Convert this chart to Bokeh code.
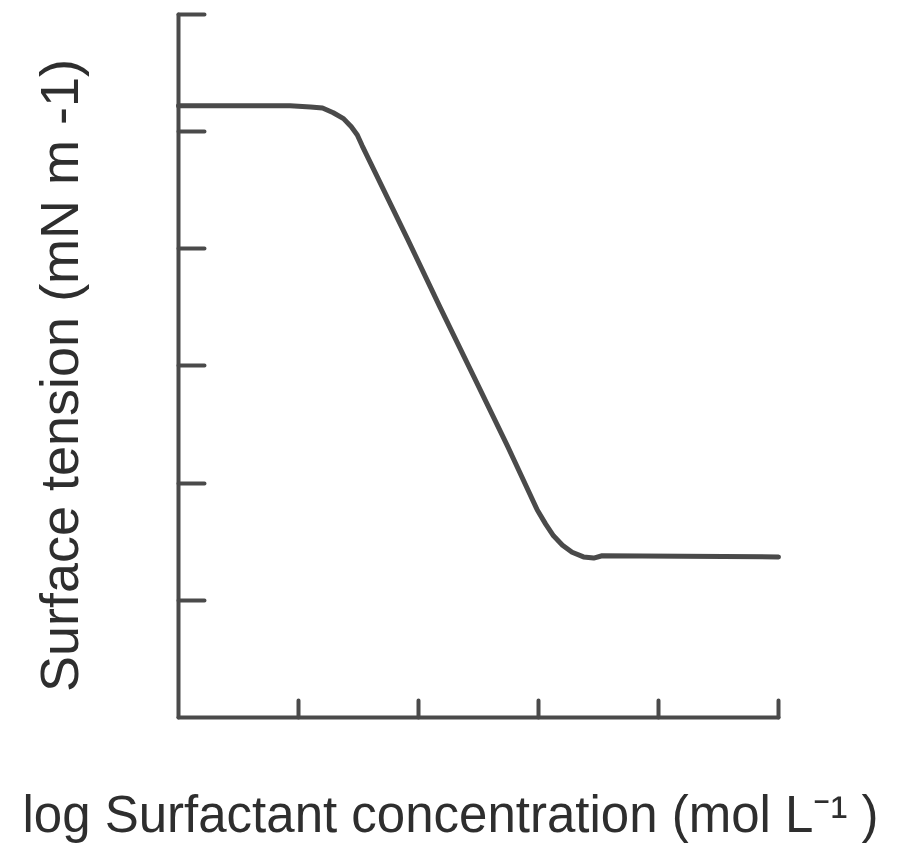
import math
from bokeh.plotting import figure
from bokeh.models import Range1d, FixedTicker, Label, LinearAxis
from bokeh.embed import file_html
from bokeh.resources import INLINE

# log surfactant concentration (arbitrary units, no tick labels)
log_conc = [0.0, 0.93, 1.10, 1.20, 1.29, 1.375, 1.44, 1.49, 1.53, 1.91, 2.18,
            2.46, 2.74, 2.99, 3.06, 3.125, 3.20, 3.28, 3.375, 3.46, 3.53, 5.0]
# surface tension (arbitrary units, no tick labels)
surface_tension = [5.22, 5.22, 5.21, 5.20, 5.16, 5.11, 5.04, 4.97, 4.88, 4.08,
                   3.50, 2.91, 2.32, 1.77, 1.65, 1.55, 1.47, 1.41, 1.37, 1.36,
                   1.38, 1.37]
x_ticks = [1, 2, 3, 4, 5]
y_ticks = [1, 2, 3, 4, 5, 6]
x_title = "log Surfactant concentration (mol L\u207b\u00b9 )"
y_title = "Surface tension (mN m -1)"

INK = "#4a4a4a"
TEXT = "#2e2e2e"
FONT = "Liberation Sans"

W, H = 890, 843
PX_X, PX_Y = 120.0, 117.2          # pixels per data unit
ORIGIN_X, ORIGIN_Y = 178, 717      # canvas position of the data origin

p = figure(width=W, height=H,
           x_range=Range1d(-ORIGIN_X / PX_X, (W - ORIGIN_X) / PX_X),
           y_range=Range1d(-(H - ORIGIN_Y) / PX_Y, ORIGIN_Y / PX_Y),
           x_axis_location=None, y_axis_location=None,
           output_backend="svg", toolbar_location=None,
           min_border=0)

p.grid.visible = False
p.outline_line_color = None
p.background_fill_color = "white"
p.border_fill_color = "white"

xaxis = LinearAxis(fixed_location=0, bounds=(0, max(x_ticks)))
yaxis = LinearAxis(fixed_location=0, bounds=(0, max(y_ticks)))
for ax, ticks, tick_in in ((xaxis, x_ticks, 17), (yaxis, y_ticks, 26)):
    ax.ticker = FixedTicker(ticks=ticks)
    ax.minor_tick_line_color = None
    ax.major_tick_in = tick_in
    ax.major_tick_out = 0
    ax.major_tick_line_width = 4
    ax.major_tick_line_color = INK
    ax.major_tick_line_cap = "round"
    ax.axis_line_width = 4
    ax.axis_line_color = INK
    ax.axis_line_cap = "round"
    ax.major_label_overrides = {t: "" for t in ticks}
    ax.major_label_standoff = 0
p.add_layout(xaxis, "below")
p.add_layout(yaxis, "left")

p.add_layout(Label(x=-1.3, y=-0.828, text=x_title, text_font=FONT,
                   text_font_size="51px", text_color=TEXT,
                   text_align="left", text_baseline="middle"))
p.add_layout(Label(x=-1.0, y=2.918, text=y_title, text_font=FONT,
                   text_font_size="54px", text_color=TEXT, angle=math.pi / 2,
                   text_align="center", text_baseline="middle"))

p.line(log_conc, surface_tension, line_width=5, line_color=INK,
       line_join="round", line_cap="round")

open("out.html", "w").write(file_html(p, INLINE))
